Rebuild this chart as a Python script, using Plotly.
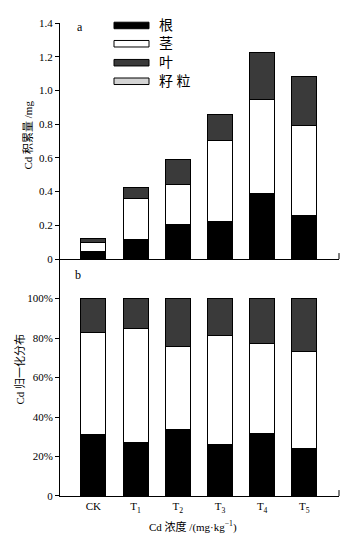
import plotly.graph_objects as go
from plotly.subplots import make_subplots

categories = ["CK", "T<sub>1</sub>", "T<sub>2</sub>", "T<sub>3</sub>", "T<sub>4</sub>", "T<sub>5</sub>"]
series_names = ["根", "茎", "叶", "籽 粒"]
series_colors = ["#000000", "#ffffff", "#3a3a3a", "#d4d4d4"]

# Panel a: Cd accumulation (mg), stacked
root_a = [0.043, 0.115, 0.203, 0.223, 0.387, 0.260]
stem_a = [0.055, 0.244, 0.242, 0.478, 0.562, 0.531]
leaf_a = [0.023, 0.065, 0.148, 0.158, 0.279, 0.291]

# Panel b: normalized distribution (%)
root_b = [31.0, 27.0, 33.8, 26.3, 31.7, 24.0]
stem_b = [52.0, 57.8, 41.7, 55.2, 45.5, 49.2]
leaf_b = [17.0, 15.2, 24.5, 18.5, 22.8, 26.8]

ya_ticks = [0, 0.2, 0.4, 0.6, 0.8, 1.0, 1.2, 1.4]
ya_text = ["0", "0.2", "0.4", "0.6", "0.8", "1.0", "1.2", "1.4"]
yb_ticks = [0, 20, 40, 60, 80, 100]
yb_text = ["0", "20%", "40%", "60%", "80%", "100%"]

FONT = "Liberation Serif, Noto Sans CJK SC, serif"

fig = make_subplots(rows=2, cols=1, vertical_spacing=0, row_heights=[0.499, 0.501])

for vals, name, col in zip([root_a, stem_a, leaf_a], series_names[:3], series_colors[:3]):
    fig.add_trace(go.Bar(x=list(range(6)), y=vals, name=name, width=0.59,
                         marker=dict(color=col, line=dict(color="#000000", width=1)),
                         showlegend=False), row=1, col=1)
for vals, name, col in zip([root_b, stem_b, leaf_b], series_names[:3], series_colors[:3]):
    fig.add_trace(go.Bar(x=list(range(6)), y=vals, name=name, width=0.59,
                         marker=dict(color=col, line=dict(color="#000000", width=1)),
                         showlegend=False), row=2, col=1)

# page body has an 8px margin: figure is drawn 8px right/down
OFF = 8
xr = [-0.79, 5.82]
fig.update_layout(
    barmode="stack",
    width=356 - OFF, height=541 - OFF,
    margin=dict(l=60 - OFF, r=17, t=17 - OFF, b=45),
    paper_bgcolor="white", plot_bgcolor="white",
    font=dict(family=FONT, size=11, color="#000000"),
    showlegend=False,
)
fig.update_xaxes(range=xr, showline=True, linecolor="#000000", linewidth=1,
                 showgrid=False, zeroline=False, ticks="")
fig.update_xaxes(showticklabels=False, row=1, col=1)
fig.update_xaxes(tickmode="array", tickvals=list(range(6)), ticktext=categories,
                 tickfont=dict(family=FONT, size=11), row=2, col=1)
fig.update_yaxes(showline=True, linecolor="#000000", linewidth=1, showgrid=False,
                 zeroline=False, ticks="outside", ticklen=4, tickcolor="#000000",
                 tickfont=dict(family=FONT, size=11))
fig.update_yaxes(range=[0, 1.4], tickmode="array", tickvals=ya_ticks, ticktext=ya_text, row=1, col=1)
fig.update_yaxes(range=[0, 120], tickmode="array", tickvals=yb_ticks, ticktext=yb_text, row=2, col=1)

W, H = 279.0, 479.0
def px(x):
    return (x - 60) / W
def py(y):
    return (496 - y) / H

shapes = []
anns = []
# right end ticks on x axes
for ybase in (256, 496):
    shapes.append(dict(type="line", xref="paper", yref="paper", x0=px(339), x1=px(339),
                       y0=py(ybase), y1=py(ybase - 6), line=dict(color="#000000", width=1)))
# legend
rows_y = [19.5, 38, 57.2, 76]
for name, col, ry in zip(series_names, series_colors, rows_y):
    shapes.append(dict(type="rect", xref="paper", yref="paper", x0=px(114), x1=px(149),
                       y0=py(ry + 3.3), y1=py(ry - 3.3), fillcolor=col,
                       line=dict(color="#000000", width=1)))
    anns.append(dict(text=name, xref="paper", yref="paper", x=px(157), y=py(ry),
                     xanchor="left", yanchor="middle", showarrow=False,
                     font=dict(family=FONT, size=14)))
# panel labels
anns.append(dict(text="a", xref="paper", yref="paper", x=px(80), y=py(21), xanchor="center",
                 yanchor="middle", showarrow=False, font=dict(family=FONT, size=12)))
anns.append(dict(text="b", xref="paper", yref="paper", x=px(78), y=py(272), xanchor="center",
                 yanchor="middle", showarrow=False, font=dict(family=FONT, size=12)))
# axis titles
anns.append(dict(text="Cd 积累量 /mg", xref="paper", yref="paper", x=px(28), y=py(131),
                 textangle=-90, xanchor="center", yanchor="middle", showarrow=False,
                 font=dict(family=FONT, size=11)))
anns.append(dict(text="Cd 归一化分布", xref="paper", yref="paper", x=px(20), y=py(368),
                 textangle=-90, xanchor="center", yanchor="middle", showarrow=False,
                 font=dict(family=FONT, size=11)))
anns.append(dict(text="Cd 浓度 /(mg·kg<sup>−1</sup>)", xref="paper", yref="paper", x=px(193), y=py(527),
                 xanchor="center", yanchor="middle", showarrow=False,
                 font=dict(family=FONT, size=11)))
fig.update_layout(shapes=shapes, annotations=anns)

fig.write_html("out.html")
